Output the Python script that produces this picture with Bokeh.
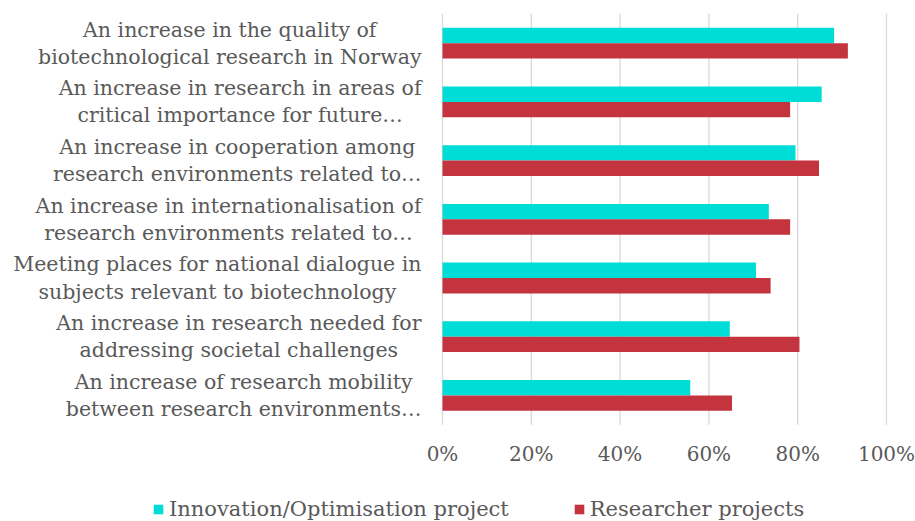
from bokeh.plotting import figure
from bokeh.models import Range1d, Legend, LegendItem, ColumnDataSource
from bokeh.core.properties import value
from bokeh.transform import dodge
from bokeh.embed import file_html
from bokeh.resources import INLINE

categories = [
    "An increase in the quality of\nbiotechnological research in Norway",
    "An increase in research in areas of\ncritical importance for future…",
    "An increase in cooperation among\nresearch environments related to…",
    "An increase in internationalisation of\nresearch environments related to…",
    "Meeting places for national dialogue in\nsubjects relevant to biotechnology",
    "An increase in research needed for\naddressing societal challenges",
    "An increase of research mobility\nbetween research environments…",
]
innovation = [0.882, 0.854, 0.795, 0.735, 0.706, 0.647, 0.558]
researcher = [0.913, 0.783, 0.848, 0.783, 0.739, 0.804, 0.652]
series_names = ["Innovation/Optimisation project", "Researcher projects"]
series_colors = ["#00DDD6", "#C3343F"]
tick_values = [0, 0.2, 0.4, 0.6, 0.8, 1.0]
tick_labels = ["0%", "20%", "40%", "60%", "80%", "100%"]

FONT = "DejaVu Serif"
GRAY = "#595959"
W, H = 915, 521

n = len(categories)
idx = list(range(n))
source = ColumnDataSource(dict(idx=idx, cat=categories, inn=innovation, res=researcher))

# the frame covers the whole canvas; ranges chosen so that 0..100% spans the plot area
x0_px, px_per_unit = 442, 444
cat_px, top_px = 58.7, 42.7
x_start = -x0_px / px_per_unit
y_top = -top_px / cat_px
p = figure(width=W, height=H,
           x_range=Range1d(x_start, x_start + W / px_per_unit),
           y_range=Range1d(y_top + H / cat_px, y_top),
           output_backend="svg", toolbar_location=None,
           min_border_left=0, min_border_right=0, min_border_top=0, min_border_bottom=0)
p.axis.visible = False
p.grid.visible = False
p.outline_line_color = None

# vertical grid lines over the plot area
p.segment(x0=tick_values, x1=tick_values, y0=[-0.5] * len(tick_values),
          y1=[n - 0.5] * len(tick_values), line_color="#D9D9D9", line_width=1.3)

bar_h = 0.262
r1 = p.hbar(y=dodge("idx", -bar_h / 2), right="inn", left=0,
            height=bar_h, source=source, fill_color=series_colors[0], line_color=None)
r2 = p.hbar(y=dodge("idx", bar_h / 2), right="res", left=0,
            height=bar_h, source=source, fill_color=series_colors[1], line_color=None)

# category labels: centred lines, block right-aligned next to the plot area
p.text(x=0, y="idx", text="cat", source=source, x_offset=-21,
       anchor="center_right", text_align="center", text_baseline="middle",
       text_line_height=1.13, text_font=value(FONT), text_font_size="20.5px",
       text_color=GRAY)

# x tick labels
p.text(x=tick_values, y=[n - 0.5] * len(tick_values), text=tick_labels, y_offset=29,
       text_align="center", text_baseline="middle",
       text_font=value(FONT), text_font_size="20px", text_color=GRAY)

legend = Legend(items=[LegendItem(label=series_names[0], renderers=[r1]),
                       LegendItem(label=series_names[1], renderers=[r2])],
                orientation="horizontal", location=(152, 0),
                border_line_color=None, background_fill_alpha=0,
                padding=0, margin=0, spacing=64,
                glyph_width=12, glyph_height=12, label_standoff=5,
                label_text_font=FONT, label_text_font_size="21px",
                label_text_color=GRAY)
p.add_layout(legend, "center")

open("out.html", "w").write(file_html(p, INLINE))
